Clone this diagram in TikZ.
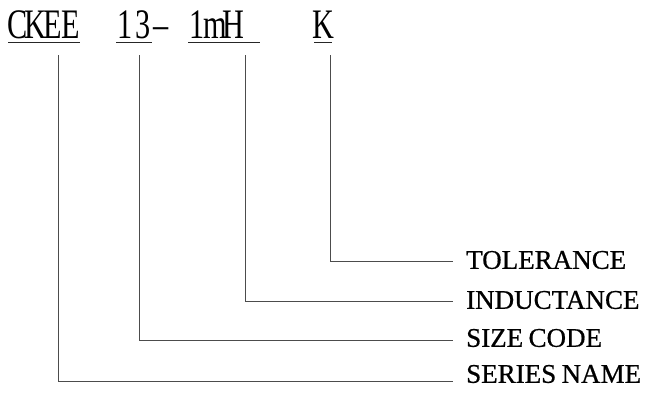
\documentclass[tikz,border=0pt]{standalone}
\usepackage{fontspec}
\setmainfont{Liberation Serif}
\newfontfamily\codefont{Liberation Serif}[FakeStretch=0.72]
\newfontfamily\partfont{Liberation Serif}[FakeBold=0.6]
\usetikzlibrary{positioning}
\newcommand\cell[1]{\makebox[18pt]{#1}}
\newcommand\tightwords{\spaceskip=0.2em\relax}

\begin{document}
\begin{tikzpicture}[x=1pt, y=-1pt,
  code/.style={inner sep=0pt, anchor=base west,
               font=\codefont\fontsize{42}{42}\selectfont},
  part/.style={inner sep=0pt, anchor=west,
               font=\partfont\fontsize{27}{27}\selectfont\tightwords},
  lead/.style={line width=1pt, black!70},
  uline/.style={line width=1pt, black!85}
]
\useasboundingbox (0,0) rectangle (645,394);

% part number
\node[code] (ckee) at (8,38)   {\cell{C}\cell{K}\cell{E}\cell{E}};
\node[code] (size) at (116,38) {\cell{1}\cell{3}};
\node[code] (dash) at (152,38) {\cell{–}};
\node[code] (ind)  at (188,38) {\cell{1}\cell{m}\cell{H}\cell{}};
\node[code] (tol)  at (314,38) {\cell{K}};

\foreach \n in {ckee,size,ind,tol}
  \draw[uline] ([yshift=-4pt]\n.base west) -- ([yshift=-4pt]\n.base east);

% field names
\node[part] (lblTol)    at (466,260) {TOLERANCE};
\node[part] (lblInd)    at (466,300) {INDUCTANCE};
\node[part] (lblSize)   at (466,338) {SIZE CODE};
\node[part] (lblSeries) at (466,374) {SERIES NAME};

% leaders
\coordinate (tTol)    at (330,55);
\coordinate (tInd)    at (245,55);
\coordinate (tSize)   at (139,55);
\coordinate (tSeries) at (58,55);
\coordinate (eTol)    at (453,261);
\coordinate (eInd)    at (453,301);
\coordinate (eSize)   at (453,340);
\coordinate (eSeries) at (453,381);

\draw[lead] (tTol) |- (eTol);
\draw[lead] (tInd) |- (eInd);
\draw[lead] (tSize) |- (eSize);
\draw[lead] (tSeries) |- (eSeries);

\end{tikzpicture}
\end{document}
